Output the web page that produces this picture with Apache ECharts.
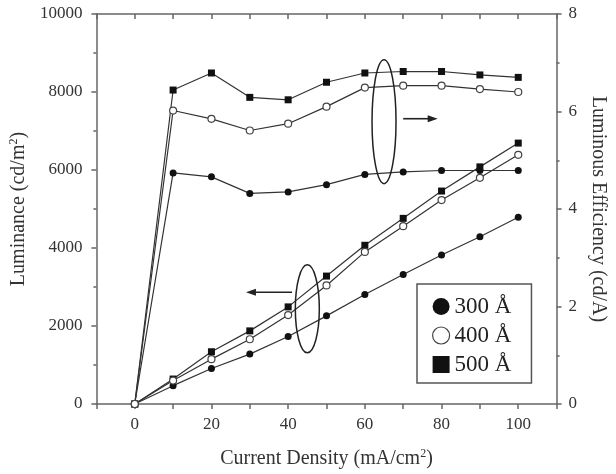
<!DOCTYPE html>
<html>
<head>
<meta charset="utf-8">
<script src="https://cdn.jsdelivr.net/npm/echarts/dist/echarts.min.js"></script>
<style>
  html, body { margin: 0; padding: 0; background: #fff; }
  #main { width: 616px; height: 474px; }
</style>
</head>
<body>
<div id="main"></div>
<script>
// current density (mA/cm2)
var current = [0, 10, 20, 30, 40, 50, 60, 70, 80, 90, 100];

// luminance (cd/m2), left axis
var lum300 = [0, 470, 910, 1280, 1730, 2260, 2810, 3320, 3820, 4290, 4790];
var lum400 = [0, 600, 1150, 1660, 2280, 3040, 3900, 4560, 5230, 5800, 6390];
var lum500 = [0, 640, 1340, 1875, 2490, 3280, 4070, 4760, 5460, 6080, 6690];

// luminous efficiency (cd/A), right axis
var eff300 = [0, 4.74, 4.66, 4.32, 4.35, 4.50, 4.71, 4.76, 4.79, 4.79, 4.79];
var eff400 = [0, 6.02, 5.85, 5.61, 5.75, 6.10, 6.49, 6.53, 6.53, 6.46, 6.40];
var eff500 = [0, 6.44, 6.79, 6.29, 6.24, 6.60, 6.79, 6.82, 6.82, 6.75, 6.70];

var names = ['300 Å', '400 Å', '500 Å'];

// annotation anchors in data units (x, luminance)
var ellipseEff = [65, 7240];
var arrowEff = [[70, 7315], [79, 7315]];
var ellipseLum = [45, 2440];
var arrowLum = [[41, 2865], [29, 2865]];

var font = '"Liberation Serif", "DejaVu Serif", serif';
var axisColor = '#666';

function pairs(ys) {
  return current.map(function (x, i) { return [x, ys[i]]; });
}

function makeSeries(name, data, yIdx, symbol) {
  var empty = symbol === 'emptyCircle';
  return {
    name: name,
    type: 'line',
    xAxisIndex: 0,
    yAxisIndex: yIdx,
    data: pairs(data),
    symbol: empty ? 'circle' : symbol,
    symbolSize: 7,
    lineStyle: { color: '#333', width: 1.2 },
    itemStyle: empty
      ? { color: '#fff', borderColor: '#444', borderWidth: 1.2 }
      : { color: '#111', borderWidth: 0 },
    emphasis: { disabled: true },
    z: empty ? 4 : 3
  };
}

var chart = echarts.init(document.getElementById('main'));

var sup = { fontSize: 12, fontFamily: font, color: '#333', verticalAlign: 'top', padding: [0, 0, 10, 0] };

var option = {
  animation: false,
  backgroundColor: '#fff',
  grid: { left: 96, right: 54, top: 14, bottom: 69 },
  legend: {
    orient: 'vertical',
    left: 417,
    top: 284,
    borderColor: '#555',
    borderWidth: 1.5,
    padding: [11, 20, 7, 15],
    itemWidth: 17,
    itemHeight: 17,
    itemGap: 6,
    itemTextGap: 9,
    textStyle: { fontFamily: font, fontSize: 23, lineHeight: 22, color: '#222' },
    data: [
      { name: names[0], icon: 'circle', itemStyle: { color: '#111', borderWidth: 0 } },
      { name: names[1], icon: 'circle', itemStyle: { color: '#fff', borderColor: '#444', borderWidth: 1.2 } },
      { name: names[2], icon: 'rect', itemStyle: { color: '#111', borderWidth: 0 } }
    ]
  },
  xAxis: [
    {
      type: 'value',
      min: -10,
      max: 110,
      interval: 10,
      name: 'Current Density (mA/cm{sup|2})',
      nameLocation: 'middle',
      nameGap: 44,
      nameTextStyle: { fontFamily: font, fontSize: 20, color: '#333', rich: { sup: sup } },
      axisLine: { show: true, onZero: false, lineStyle: { color: axisColor, width: 1.5 } },
      axisTick: { show: true, inside: false, length: 5, lineStyle: { color: axisColor, width: 1.5 } },
      axisLabel: {
        fontFamily: font, fontSize: 17, color: '#333', margin: 12,
        formatter: function (v) { return (v >= 0 && v <= 100 && v % 20 === 0) ? String(v) : ''; }
      },
      splitLine: { show: false }
    },
    {
      type: 'value',
      position: 'top',
      min: -10,
      max: 110,
      interval: 10,
      axisLine: { show: true, onZero: false, lineStyle: { color: axisColor, width: 1.5 } },
      axisTick: { show: true, inside: true, length: 5, lineStyle: { color: axisColor, width: 1.5 } },
      axisLabel: { show: false },
      splitLine: { show: false }
    }
  ],
  yAxis: [
    {
      type: 'value',
      min: 0,
      max: 10000,
      interval: 2000,
      name: 'Luminance (cd/m{sup|2})',
      nameLocation: 'middle',
      nameGap: 64,
      nameTextStyle: { fontFamily: font, fontSize: 20, color: '#333', rich: { sup: sup } },
      axisLine: { show: true, onZero: false, lineStyle: { color: axisColor, width: 1.5 } },
      axisTick: { show: true, length: 5, lineStyle: { color: axisColor, width: 1.5 } },
      minorTick: { show: true, splitNumber: 2, length: 3, lineStyle: { color: axisColor, width: 1.5 } },
      axisLabel: { fontFamily: font, fontSize: 17, color: '#333', margin: 14, formatter: function (v) { return String(v); } },
      splitLine: { show: false }
    },
    {
      type: 'value',
      position: 'right',
      min: 0,
      max: 8,
      interval: 2,
      name: 'Luminous Efficiency (cd/A)',
      nameLocation: 'middle',
      nameRotate: -90,
      nameGap: 30,
      nameTextStyle: { fontFamily: font, fontSize: 20, color: '#333' },
      axisLine: { show: true, onZero: false, lineStyle: { color: axisColor, width: 1.5 } },
      axisTick: { show: true, length: 5, lineStyle: { color: axisColor, width: 1.5 } },
      minorTick: { show: true, splitNumber: 2, length: 3, lineStyle: { color: axisColor, width: 1.5 } },
      axisLabel: { fontFamily: font, fontSize: 17, color: '#333', margin: 12 },
      splitLine: { show: false }
    }
  ],
  series: [
    makeSeries(names[0], lum300, 0, 'circle'),
    makeSeries(names[1], lum400, 0, 'emptyCircle'),
    makeSeries(names[2], lum500, 0, 'rect'),
    makeSeries(names[0], eff300, 1, 'circle'),
    makeSeries(names[1], eff400, 1, 'emptyCircle'),
    makeSeries(names[2], eff500, 1, 'rect')
  ]
};

chart.setOption(option);

// ellipses and arrows, placed from data units
function px(p) { return chart.convertToPixel({ xAxisIndex: 0, yAxisIndex: 0 }, p); }

function arrow(a) {
  var p0 = px(a[0]), p1 = px(a[1]);
  var dir = p1[0] > p0[0] ? 1 : -1;
  return [
    { type: 'line', shape: { x1: p0[0], y1: p0[1], x2: p1[0] - dir * 6, y2: p1[1] },
      style: { stroke: '#222', lineWidth: 1.6 }, z: 10 },
    { type: 'polygon',
      shape: { points: [[p1[0], p1[1]], [p1[0] - dir * 10, p1[1] - 3.5], [p1[0] - dir * 10, p1[1] + 3.5]] },
      style: { fill: '#222' }, z: 10 }
  ];
}

var c1 = px(ellipseEff), c2 = px(ellipseLum);
var graphics = [
  { type: 'ellipse', shape: { cx: c1[0], cy: c1[1], rx: 12, ry: 62 },
    style: { fill: 'none', stroke: '#222', lineWidth: 1.5 }, z: 10 },
  { type: 'ellipse', shape: { cx: c2[0], cy: c2[1], rx: 12, ry: 44 },
    style: { fill: 'none', stroke: '#222', lineWidth: 1.5 }, z: 10 }
].concat(arrow(arrowEff), arrow(arrowLum));

chart.setOption({ graphic: graphics });
</script>
</body>
</html>
